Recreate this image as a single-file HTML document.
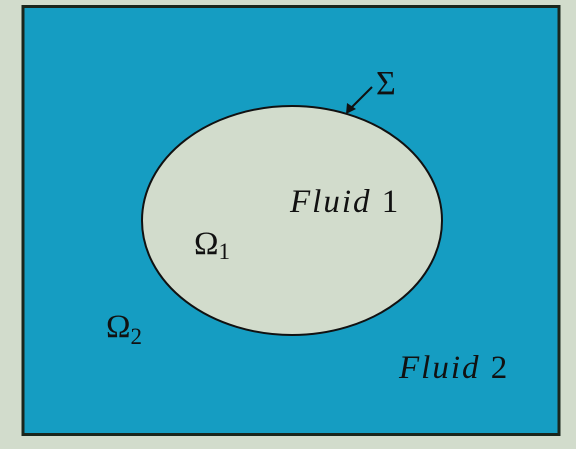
<!DOCTYPE html>
<html><head><meta charset="utf-8"><style>
html,body{margin:0;padding:0;background:#d2dccc;}
svg{display:block;font-family:"Liberation Serif",serif;}
</style></head><body>
<svg width="576" height="449" viewBox="0 0 576 449">
<rect x="0" y="0" width="576" height="449" fill="#d2dccc"/>
<rect x="23" y="6.5" width="536" height="428" fill="#159dc2" stroke="#1a261c" stroke-width="3"/>
<ellipse cx="292" cy="220.5" rx="150" ry="114.5" fill="#d2dccc" stroke="#111" stroke-width="2"/>
<line x1="372" y1="87" x2="350" y2="109" stroke="#111" stroke-width="2"/>
<polygon points="346,114 347,103 356,109" fill="#111"/>
<text x="376" y="94" font-size="34" fill="#111">Σ</text>
<text x="290" y="212" font-size="33" letter-spacing="2" fill="#111"><tspan font-style="italic">Fluid</tspan> 1</text>
<text x="194" y="254" font-size="33" fill="#111">Ω<tspan font-size="23" dy="5">1</tspan></text>
<text x="106" y="337" font-size="33" fill="#111">Ω<tspan font-size="23" dy="7">2</tspan></text>
<text x="399" y="378" font-size="33" letter-spacing="2" fill="#111"><tspan font-style="italic">Fluid</tspan> 2</text>
</svg>
</body></html>
